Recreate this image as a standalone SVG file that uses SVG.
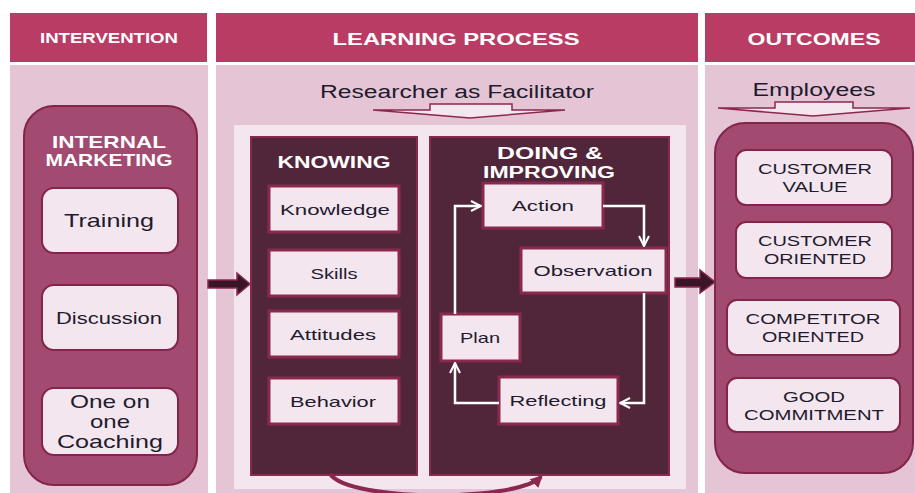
<svg xmlns="http://www.w3.org/2000/svg" width="915" height="493" viewBox="0 0 915 493">
<defs>
<style>
.hdr{fill:#B93C65}
.body{fill:#E5C5D5}
.hd{font-family:"Liberation Sans",Arial,sans-serif;font-weight:bold;fill:#fff;text-anchor:middle}
.t{font-family:"Liberation Sans",Arial,sans-serif;fill:#1E1B2E;text-anchor:middle}
.wt{font-family:"Liberation Sans",Arial,sans-serif;font-weight:bold;fill:#fff;text-anchor:middle}
.round{fill:#A34A70;stroke:#82244C;stroke-width:2}
.rbox{fill:#F4E6EE;stroke:#82244C;stroke-width:2}
.dark{fill:#52263A;stroke:#8A2850;stroke-width:2}
.sbox{fill:#F4E6EE;stroke:#8A2850;stroke-width:3}
.loop{fill:none;stroke:#fff;stroke-width:2.5;marker-end:url(#wh)}
.big{fill:#3A1428;stroke:#8A2850;stroke-width:1.5}
</style>
<marker id="wh" viewBox="0 0 10 10" refX="9" refY="5" markerWidth="5" markerHeight="5" orient="auto" markerUnits="strokeWidth">
<polyline points="1,1 9,5 1,9" fill="none" stroke="#fff" stroke-width="1.6"/>
</marker>
<marker id="mg" viewBox="0 0 10 10" refX="8" refY="5" markerWidth="3" markerHeight="3" orient="auto" markerUnits="strokeWidth">
<path d="M0,0 L10,5 L0,10 Z" fill="#8A2850"/>
</marker>
</defs>
<rect width="915" height="493" fill="#fff"/>

<g id="col-intervention">
<rect class="hdr" x="10" y="13" width="197" height="49"/>
<text class="hd" x="109" y="43" font-size="14" textLength="138" lengthAdjust="spacingAndGlyphs">INTERVENTION</text>
<rect class="body" x="10" y="65" width="198" height="428"/>
</g>
<g id="col-learning">
<rect class="hdr" x="216" y="13" width="482" height="49"/>
<text class="hd" x="456" y="45" font-size="17" textLength="247" lengthAdjust="spacingAndGlyphs">LEARNING  PROCESS</text>
<rect class="body" x="216" y="65" width="482" height="428"/>
<rect x="234" y="125" width="452" height="364" fill="#F4E6EE"/>
</g>
<g id="col-outcomes">
<rect class="hdr" x="705" y="13" width="210" height="49"/>
<text class="hd" x="814" y="45" font-size="17" textLength="133" lengthAdjust="spacingAndGlyphs">OUTCOMES</text>
<rect class="body" x="705" y="65" width="210" height="428"/>
</g>

<g id="internal-marketing">
<rect class="round" x="24" y="106" width="173" height="379" rx="30"/>
<text class="wt" x="109" y="148" font-size="17" textLength="114" lengthAdjust="spacingAndGlyphs">INTERNAL</text>
<text class="wt" x="109" y="166" font-size="17" textLength="127" lengthAdjust="spacingAndGlyphs">MARKETING</text>
</g>
<g id="training">
<rect class="rbox" x="42" y="188" width="136" height="65" rx="12"/>
<text class="t" x="109" y="227" font-size="19" textLength="90" lengthAdjust="spacingAndGlyphs">Training</text>
</g>
<g id="discussion">
<rect class="rbox" x="42" y="285" width="136" height="65" rx="12"/>
<text class="t" x="109" y="324" font-size="16" textLength="106" lengthAdjust="spacingAndGlyphs">Discussion</text>
</g>
<g id="coaching">
<rect class="rbox" x="42" y="388" width="136" height="67" rx="12"/>
<text class="t" x="110" y="408" font-size="19" textLength="80" lengthAdjust="spacingAndGlyphs">One on</text>
<text class="t" x="110" y="428" font-size="19" textLength="40" lengthAdjust="spacingAndGlyphs">one</text>
<text class="t" x="110" y="448" font-size="19" textLength="106" lengthAdjust="spacingAndGlyphs">Coaching</text>
</g>

<g id="facilitator">
<text class="t" x="457" y="98" font-size="18" textLength="274" lengthAdjust="spacingAndGlyphs">Researcher as Facilitator</text>
<polygon points="430,104 512,104 512,110 565,110 470,118 373,110 430,110" fill="#F4E6EE" stroke="#8A2850" stroke-width="1.5" stroke-linejoin="miter"/>
</g>

<g id="knowing">
<rect class="dark" x="251" y="137" width="166" height="338"/>
<text class="wt" x="334" y="168" font-size="16" textLength="113" lengthAdjust="spacingAndGlyphs">KNOWING</text>
</g>
<g id="knowledge"><rect class="sbox" x="269" y="186" width="130" height="46"/><text class="t" x="335" y="215" font-size="15" textLength="110" lengthAdjust="spacingAndGlyphs">Knowledge</text></g>
<g id="skills"><rect class="sbox" x="269" y="250" width="130" height="46"/><text class="t" x="334" y="279" font-size="15" textLength="47" lengthAdjust="spacingAndGlyphs">Skills</text></g>
<g id="attitudes"><rect class="sbox" x="269" y="311" width="130" height="46"/><text class="t" x="333" y="340" font-size="15" textLength="86" lengthAdjust="spacingAndGlyphs">Attitudes</text></g>
<g id="behavior"><rect class="sbox" x="269" y="378" width="130" height="46"/><text class="t" x="333" y="407" font-size="15" textLength="86" lengthAdjust="spacingAndGlyphs">Behavior</text></g>

<g id="doing">
<rect class="dark" x="430" y="137" width="239" height="338"/>
<text class="wt" x="550" y="159" font-size="16" textLength="106" lengthAdjust="spacingAndGlyphs">DOING  &amp;</text>
<text class="wt" x="549" y="178" font-size="16" textLength="132" lengthAdjust="spacingAndGlyphs">IMPROVING</text>
</g>
<g id="action"><rect class="sbox" x="483" y="183" width="120" height="45"/><text class="t" x="543" y="211" font-size="15" textLength="62" lengthAdjust="spacingAndGlyphs">Action</text></g>
<g id="observation"><rect class="sbox" x="521" y="248" width="145" height="45"/><text class="t" x="593" y="276" font-size="15" textLength="119" lengthAdjust="spacingAndGlyphs">Observation</text></g>
<g id="plan"><rect class="sbox" x="441" y="314" width="79" height="47"/><text class="t" x="480" y="343" font-size="15" textLength="40" lengthAdjust="spacingAndGlyphs">Plan</text></g>
<g id="reflecting"><rect class="sbox" x="499" y="377" width="119" height="47"/><text class="t" x="558" y="406" font-size="15" textLength="97" lengthAdjust="spacingAndGlyphs">Reflecting</text></g>

<g id="employees">
<text class="t" x="814" y="96" font-size="18" textLength="123" lengthAdjust="spacingAndGlyphs">Employees</text>
<polygon points="775,102 853,102 853,108 910,108 813,116 718,108 775,108" fill="#F4E6EE" stroke="#8A2850" stroke-width="1.5"/>
</g>
<g id="outcomes-group">
<rect class="round" x="715" y="123" width="198" height="350" rx="30"/>
</g>
<g id="customer-value"><rect class="rbox" x="736" y="150" width="156" height="55" rx="10"/><text class="t" x="815" y="174" font-size="15" textLength="114" lengthAdjust="spacingAndGlyphs">CUSTOMER</text><text class="t" x="815" y="192" font-size="15" textLength="65" lengthAdjust="spacingAndGlyphs">VALUE</text></g>
<g id="customer-oriented"><rect class="rbox" x="736" y="222" width="156" height="56" rx="10"/><text class="t" x="815" y="246" font-size="15" textLength="114" lengthAdjust="spacingAndGlyphs">CUSTOMER</text><text class="t" x="815" y="264" font-size="15" textLength="102" lengthAdjust="spacingAndGlyphs">ORIENTED</text></g>
<g id="competitor-oriented"><rect class="rbox" x="727" y="300" width="173" height="55" rx="10"/><text class="t" x="813" y="324" font-size="15" textLength="135" lengthAdjust="spacingAndGlyphs">COMPETITOR</text><text class="t" x="813" y="342" font-size="15" textLength="102" lengthAdjust="spacingAndGlyphs">ORIENTED</text></g>
<g id="good-commitment"><rect class="rbox" x="727" y="378" width="173" height="54" rx="10"/><text class="t" x="814" y="402" font-size="15" textLength="62" lengthAdjust="spacingAndGlyphs">GOOD</text><text class="t" x="814" y="420" font-size="15" textLength="140" lengthAdjust="spacingAndGlyphs">COMMITMENT</text></g>

<g id="connectors">
<polygon class="big" points="208,280 237,280 237,273 250,284 237,295 237,288 208,288"/>
<polygon class="big" points="675,278 700,278 700,270 715,282 700,293 700,287 675,287"/>
<polyline class="loop" points="603,206 644,206 644,246"/>
<polyline class="loop" points="644,293 644,403 620,403"/>
<polyline class="loop" points="499,403 455,403 455,363"/>
<polyline class="loop" points="455,314 455,206 481,206"/>
<path d="M330,474 C350,502 515,502 541,477" fill="none" stroke="#8A2850" stroke-width="4" marker-end="url(#mg)"/>
</g>
</svg>
